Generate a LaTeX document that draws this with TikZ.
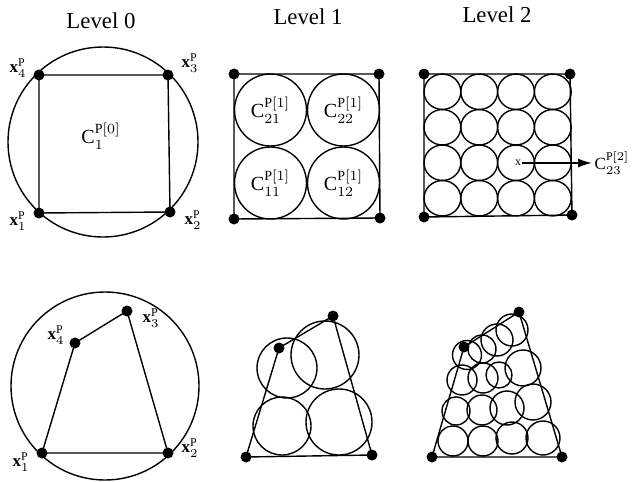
\documentclass[tikz,border=0pt]{standalone}
\usepackage{fontspec}
\setmainfont{Liberation Serif}
\usepackage{amsmath}
\usetikzlibrary{arrows.meta}

\begin{document}
\begin{tikzpicture}[
    x=0.5pt, y=-0.5pt,
    line width=0.7pt,
    dot/.style={circle, fill=black, inner sep=0pt, minimum size=5.5pt},
    ttl/.style={font=\fontsize{11.4}{13}\selectfont},
    lbl/.style={font=\fontsize{8.5}{10}\selectfont, inner sep=0pt},
    cl/.style={font=\fontsize{10}{12}\selectfont, inner sep=0.5pt},
    arr/.style={-{Latex[length=7pt,width=4.5pt]}, line width=0.8pt}
]
\useasboundingbox (0,0) rectangle (633,482);

\node[ttl] (t0) at (101,21) {Level 0};
\node[ttl] (t1) at (308,17) {Level 1};
\node[ttl] (t2) at (497,15) {Level 2};

% level 0, square
\draw (103,142) circle (95);
\node[dot] (a1) at (39,213) {};
\node[dot] (a2) at (170,212) {};
\node[dot] (a3) at (168,75) {};
\node[dot] (a4) at (39,75) {};
\draw (a1.center) -- (a2.center) -- (a3.center) -- (a4.center) -- cycle;
\node[lbl] (la4) at (18,68) {$\mathbf{x}_4^{\mathrm{P}}$};
\node[lbl] (la3) at (190,63) {$\mathbf{x}_3^{\mathrm{P}}$};
\node[lbl] (la1) at (18,221) {$\mathbf{x}_1^{\mathrm{P}}$};
\node[lbl] (la2) at (193,220) {$\mathbf{x}_2^{\mathrm{P}}$};
\node[cl] (c0) at (101,136) {$\mathrm{C}_{1}^{\mathrm{P}[0]}$};

% level 1, square
\node[dot] (b1) at (234,219) {};
\node[dot] (b2) at (380,218) {};
\node[dot] (b3) at (379,74) {};
\node[dot] (b4) at (234,74) {};
\draw (b1.center) -- (b2.center) -- (b3.center) -- (b4.center) -- cycle;
\foreach \cx/\cy/\t in {270.5/110/21, 343.5/110/22, 270.5/183/11, 343.5/183/12}{
  \draw (\cx,\cy) circle (36);
  \node[cl] at (\cx,\cy) {$\mathrm{C}_{\t}^{\mathrm{P}[1]}$};
}

% level 2, square
\node[dot] (c1) at (424,217) {};
\node[dot] (c2) at (572,215) {};
\node[dot] (c3) at (570,74) {};
\node[dot] (c4) at (424,74) {};
\draw (c1.center) -- (c2.center) -- (c3.center) -- (c4.center) -- cycle;
\foreach \i in {1,...,4}
  \foreach \j in {1,...,4}
    \draw ({424+18.4*(2*\i-1)},{74+17.75*(2*\j-1)}) ellipse [x radius=18.4, y radius=17.7];
\node[font=\fontsize{6}{7}\selectfont, inner sep=0pt] (m) at (518,163) {x};
\node[cl, anchor=west, font=\fontsize{8.5}{10}\selectfont, inner sep=1pt] (c23) at (592,163) {$\mathrm{C}_{23}^{\mathrm{P}[2]}$};
\draw[arr] (m) -- (c23.west);

% level 0, quadrilateral
\draw (105,386) circle (94);
\node[dot] (d1) at (42,453) {};
\node[dot] (d2) at (168,453) {};
\node[dot] (d3) at (127,311) {};
\node[dot] (d4) at (75,343) {};
\draw (d1.center) -- (d2.center) -- (d3.center) -- (d4.center) -- cycle;
\node[lbl] (ld4) at (56,335) {$\mathbf{x}_4^{\mathrm{P}}$};
\node[lbl] (ld3) at (151,318) {$\mathbf{x}_3^{\mathrm{P}}$};
\node[lbl] (ld1) at (21,462) {$\mathbf{x}_1^{\mathrm{P}}$};
\node[lbl] (ld2) at (190,448) {$\mathbf{x}_2^{\mathrm{P}}$};

% level 1, quadrilateral
\node[dot] (e1) at (246,457) {};
\node[dot] (e2) at (372,455) {};
\node[dot] (e3) at (333,316) {};
\node[dot] (e4) at (279,348) {};
\draw (e1.center) -- (e2.center) -- (e3.center) -- (e4.center) -- cycle;
\foreach \cx/\cy/\r in {287/368/30, 325/355/34, 282/426/29, 339/422/33}
  \draw (\cx,\cy) circle (\r);

% level 2, quadrilateral
\node[dot] (f1) at (432,457) {};
\node[dot] (f2) at (562,457) {};
\node[dot] (f3) at (519,312) {};
\node[dot] (f4) at (464,347) {};
\draw (f1.center) -- (f2.center) -- (f3.center) -- (f4.center) -- cycle;
\foreach \cx/\cy/\r in {453/441/15, 483/441/15, 512/438/16, 543/438/17,
                        456/411/14, 482/410/15, 507/408/17, 533/402/18,
                        462/380/15, 483/378/15, 499/375/13, 523/368/18,
                        467/355/14.5, 482/349/14, 497/340/16, 512/330/16}
  \draw (\cx,\cy) circle (\r);
\end{tikzpicture}
\end{document}
